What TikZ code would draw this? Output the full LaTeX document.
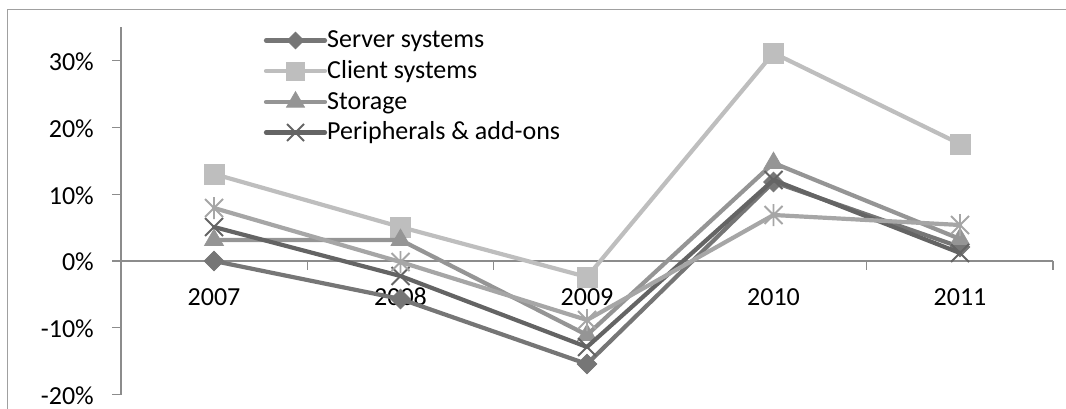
\documentclass[tikz,border=0pt]{standalone}
\usepackage{fontspec}
\setmainfont{Carlito}
\usetikzlibrary{shapes.geometric,shapes.misc}
\definecolor{cServer}{HTML}{767676}
\definecolor{cClient}{HTML}{BEBEBE}
\definecolor{cStorage}{HTML}{959595}
\definecolor{cPeriph}{HTML}{646464}
\definecolor{cFifth}{HTML}{A6A6A6}
\definecolor{cAxis}{HTML}{8C8C8C}
\definecolor{cFrame}{HTML}{A0A0A0}
\tikzset{
  lbl/.style={inner sep=0pt, font=\fontsize{26}{31}\selectfont},
  serline/.style={line width=4.2pt, line join=round, line cap=round, draw=#1},
  mdia/.style 2 args={diamond, aspect=1, minimum size=#2, inner sep=0pt, fill=#1, draw=#1, line width=0.6pt},
  msq/.style 2 args={rectangle, minimum size=#2, inner sep=0pt, fill=#1, draw=#1, line width=0.6pt},
  mtri/.style 2 args={regular polygon, regular polygon sides=3, minimum size=#2, inner sep=0pt, fill=#1, draw=#1, line width=0.6pt},
  mx/.style 2 args={cross out, minimum size=#2, inner sep=0pt, draw=#1, line width=2pt},
  axisline/.style={draw=cAxis, line width=1.3pt},
}
\newcommand{\astmark}[2]{% #1 name of coordinate, #2 color
  \draw[#2, line width=1.8pt] ([shift={(-9,-9)}]#1) -- ([shift={(9,9)}]#1)
    ([shift={(-9,9)}]#1) -- ([shift={(9,-9)}]#1)
    ([shift={(0,-11)}]#1) -- ([shift={(0,11)}]#1);}
\begin{document}
\begin{tikzpicture}[x=1pt,y=-1pt]
\useasboundingbox (0,0) rectangle (1066,409);
% frame
\draw[cFrame, line width=1.3pt] (7.3,409) -- (7.3,9.3) -- (1066,9.3);
% axes
\draw[axisline] (121,27.2) -- (121,394.6);
\foreach \v/\t in {30/30\%,20/20\%,10/10\%,0/0\%,-10/-10\%,-20/-20\%}{
  \draw[axisline] (112,{261-6.68*\v}) -- (121,{261-6.68*\v});
  \node[lbl, anchor=base east] (ylab\v) at (94,{261-6.68*\v+9.8}) {\t};
}
\draw[axisline] (121,261) -- (1053,261);
\foreach \x in {307.4,493.8,680.2,866.6,1053}{
  \draw[axisline] (\x,261) -- (\x,270);
}
\foreach \x/\t in {214/2007,400.5/2008,587/2009,773.5/2010,960/2011}{
  \node[lbl, anchor=base] (xlab\t) at (\x,305) {\t};
}
% data coordinates
\coordinate (sA1) at (214,261);   \coordinate (sA2) at (400.5,299); \coordinate (sA3) at (587,364); \coordinate (sA4) at (773.5,182); \coordinate (sA5) at (960,247);
\coordinate (sB1) at (214,174);   \coordinate (sB2) at (400.5,227); \coordinate (sB3) at (587,277); \coordinate (sB4) at (773.5,53);  \coordinate (sB5) at (960,144);
\coordinate (sC1) at (214,240);   \coordinate (sC2) at (400.5,240); \coordinate (sC3) at (587,335); \coordinate (sC4) at (773.5,163); \coordinate (sC5) at (960,239);
\coordinate (sD1) at (214,227);   \coordinate (sD2) at (400.5,276); \coordinate (sD3) at (587,347); \coordinate (sD4) at (773.5,180); \coordinate (sD5) at (960,253);
\coordinate (sE1) at (214,208);   \coordinate (sE2) at (400.5,262); \coordinate (sE3) at (587,320); \coordinate (sE4) at (773.5,215); \coordinate (sE5) at (960,225);
% Server systems
\draw[serline=cServer] (sA1) -- (sA2) -- (sA3) -- (sA4) -- (sA5);
\foreach \i in {1,...,5}{\node[mdia={cServer}{20pt}] (mA\i) at (sA\i) {};}
% Client systems
\draw[serline=cClient] (sB1) -- (sB2) -- (sB3) -- (sB4) -- (sB5);
\foreach \i in {1,...,5}{\node[msq={cClient}{20pt}] (mB\i) at (sB\i) {};}
% Storage
\draw[serline=cStorage] (sC1) -- (sC2) -- (sC3) -- (sC4) -- (sC5);
\foreach \i in {1,...,5}{\node[mtri={cStorage}{22pt}] (mC\i) at (sC\i) {};}
% Peripherals
\draw[serline=cPeriph] (sD1) -- (sD2) -- (sD3) -- (sD4) -- (sD5);
\foreach \i in {1,...,5}{\node[mx={cPeriph}{16pt}] (mD\i) at (sD\i) {};}
% fifth series
\draw[serline=cFifth] (sE1) -- (sE2) -- (sE3) -- (sE4) -- (sE5);
\foreach \i in {1,...,5}{\astmark{sE\i}{cFifth}}
% legend
\coordinate (lA0) at (266,40.5);  \coordinate (lA1) at (325,40.5);  \coordinate (lAm) at (295.5,40.5);
\coordinate (lB0) at (266,71);    \coordinate (lB1) at (325,71);    \coordinate (lBm) at (295.5,71);
\coordinate (lC0) at (266,102);   \coordinate (lC1) at (325,102);   \coordinate (lCm) at (295.5,102);
\coordinate (lD0) at (266,132.5); \coordinate (lD1) at (325,132.5); \coordinate (lDm) at (295.5,132.5);
\draw[serline=cServer] (lA0) -- (lA1); \node[mdia={cServer}{17pt}] (kA) at (lAm) {};
\draw[serline=cClient] (lB0) -- (lB1); \node[msq={cClient}{18pt}] (kB) at (lBm) {};
\draw[serline=cStorage] (lC0) -- (lC1); \node[mtri={cStorage}{21pt}] (kC) at (lCm) {};
\draw[serline=cPeriph] (lD0) -- (lD1); \node[mx={cPeriph}{15pt}] (kD) at (lDm) {};
\node[lbl, anchor=base west] (tA) at (327,48) {Server systems};
\node[lbl, anchor=base west] (tB) at (327,78.5) {Client systems};
\node[lbl, anchor=base west] (tC) at (327,109.5) {Storage};
\node[lbl, anchor=base west] (tD) at (327,140) {Peripherals \& add-ons};
\end{tikzpicture}
\end{document}
